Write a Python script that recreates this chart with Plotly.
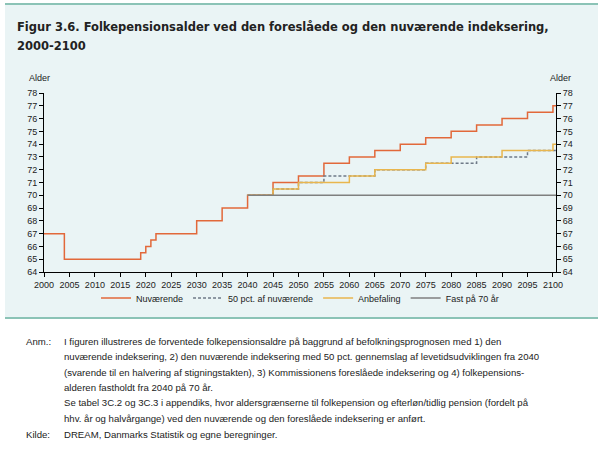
import plotly.graph_objects as go

# ---------------- data ----------------
END_YEAR = 2100.6

NUV_YEARS = [2000, 2004, 2019, 2020, 2021, 2022, 2030, 2035, 2040, 2045, 2050,
             2055, 2060, 2065, 2070, 2075, 2080, 2085, 2090, 2095, 2100]
NUV_VALUES = [67, 65, 65.5, 66, 66.5, 67, 68, 69, 70, 71, 71.5,
              72.5, 73, 73.5, 74, 74.5, 75, 75.5, 76, 76.5, 77]

HALF_YEARS = [2040, 2045, 2050, 2055, 2065, 2075, 2085, 2095]
HALF_VALUES = [70, 70.5, 71, 71.5, 72, 72.5, 73, 73.5]

ANB_YEARS = [2040, 2045, 2050, 2060, 2065, 2075, 2080, 2090, 2100]
ANB_VALUES = [70, 70.5, 71, 71.5, 72, 72.5, 73, 73.5, 74]

FAST_YEARS = [2040]
FAST_VALUES = [70]

SERIES_NAMES = ["Nuværende", "50 pct. af nuværende", "Anbefaling", "Fast på 70 år"]

TITLE_LINES = ["Figur 3.6. Folkepensionsalder ved den foreslåede og den nuværende indeksering,",
               "2000-2100"]
NOTE_LINES = [
    "I figuren illustreres de forventede folkepensionsaldre på baggrund af befolkningsprognosen med 1) den",
    "nuværende indeksering, 2) den nuværende indeksering med 50 pct. gennemslag af levetidsudviklingen fra 2040",
    "(svarende til en halvering af stigningstakten), 3) Kommissionens foreslåede indeksering og 4) folkepensions-",
    "alderen fastholdt fra 2040 på 70 år.",
    "Se tabel 3C.2 og 3C.3 i appendiks, hvor aldersgrænserne til folkepension og efterløn/tidlig pension (fordelt på",
    "hhv. år og halvårgange) ved den nuværende og den foreslåede indeksering er anført.",
]
SOURCE_LINE = "DREAM, Danmarks Statistik og egne beregninger."

# ---------------- layout geometry ----------------
W, H = 604, 449
L, R, T, B = 44, 48, 93, 177
PW, PH = W - L - R, H - T - B


def px(x):
    return (x - L) / PW


def py(y):
    return (H - B - y) / PH


def extend(years, values):
    return list(years) + [END_YEAR], list(values) + [values[-1]]


ORANGE = "#E2683A"
YELLOW = "#E9B64E"
GREY = "#7F7F7F"
DASH = "#6F7A88"
FONT = "Liberation Sans"
TXT = "#222222"

fig = go.Figure()
specs = [
    (NUV_YEARS, NUV_VALUES, ORANGE, "solid"),
    (HALF_YEARS, HALF_VALUES, DASH, "3px,2px"),
    (ANB_YEARS, ANB_VALUES, YELLOW, "solid"),
    (FAST_YEARS, FAST_VALUES, GREY, "solid"),
]
for name, (xs, ys, col, dash) in zip(SERIES_NAMES, specs):
    ex, ey = extend(xs, ys)
    fig.add_trace(go.Scatter(x=ex, y=ey, mode="lines", name=name,
                             line=dict(color=col, width=1.5, dash=dash, shape="hv")))
# invisible trace for right axis
fig.add_trace(go.Scatter(x=[2000], y=[64], yaxis="y2", mode="markers",
                         marker=dict(opacity=0), showlegend=False, hoverinfo="skip"))

BG = "#EAF4F5"
LINE = "#8BC3B6"
shapes = [
    dict(type="rect", xref="paper", yref="paper", x0=px(5), x1=px(598), y0=py(318), y1=py(4),
         fillcolor=BG, line=dict(width=0), layer="below"),
    dict(type="line", xref="paper", yref="paper", x0=px(5), x1=px(598), y0=py(4), y1=py(4),
         line=dict(color=LINE, width=2)),
    dict(type="line", xref="paper", yref="paper", x0=px(5), x1=px(598), y0=py(318), y1=py(318),
         line=dict(color=LINE, width=2)),
]

ann = []
for i, t in enumerate(TITLE_LINES):
    ann.append(dict(text="<b>" + t + "</b>", x=px(15), y=py(27 + 19 * i), xref="paper", yref="paper",
                    xanchor="left", yanchor="middle", showarrow=False,
                    font=dict(family="DejaVu Sans", size=11.5, color=TXT)))
ann.append(dict(text="Alder", x=px(27), y=py(78), xref="paper", yref="paper", xanchor="left",
                yanchor="middle", showarrow=False, font=dict(family=FONT, size=9, color=TXT)))
ann.append(dict(text="Alder", x=px(573), y=py(78), xref="paper", yref="paper", xanchor="right",
                yanchor="middle", showarrow=False, font=dict(family=FONT, size=9, color=TXT)))
NOTE_SIZE = 9.6
ann.append(dict(text="Anm.:", x=px(24), y=py(341), xref="paper", yref="paper", xanchor="left",
                yanchor="middle", showarrow=False, font=dict(family=FONT, size=NOTE_SIZE, color=TXT)))
for i, t in enumerate(NOTE_LINES):
    ann.append(dict(text=t, x=px(62), y=py(341 + 15.5 * i), xref="paper", yref="paper",
                    xanchor="left", yanchor="middle", showarrow=False,
                    font=dict(family=FONT, size=NOTE_SIZE, color=TXT)))
ann.append(dict(text="Kilde:", x=px(24), y=py(341 + 15.5 * 6), xref="paper", yref="paper",
                xanchor="left", yanchor="middle", showarrow=False,
                font=dict(family=FONT, size=NOTE_SIZE, color=TXT)))
ann.append(dict(text=SOURCE_LINE, x=px(62), y=py(341 + 15.5 * 6), xref="paper", yref="paper",
                xanchor="left", yanchor="middle", showarrow=False,
                font=dict(family=FONT, size=NOTE_SIZE, color=TXT)))

axis_common = dict(showline=True, linecolor="#000000", linewidth=1, ticks="outside",
                   ticklen=4, tickcolor="#000000", showgrid=False, zeroline=False,
                   tickfont=dict(family=FONT, size=9, color=TXT))

fig.update_layout(
    width=W, height=H,
    margin=dict(l=L, r=R, t=T, b=B, pad=0),
    paper_bgcolor="white",
    plot_bgcolor="rgba(0,0,0,0)",
    shapes=shapes,
    annotations=ann,
    xaxis=dict(range=[2000, END_YEAR], tick0=2000, dtick=5, **axis_common),
    yaxis=dict(range=[64, 78], dtick=1, **axis_common),
    yaxis2=dict(range=[64, 78], dtick=1, overlaying="y", side="right", **axis_common),
    showlegend=True,
    legend=dict(orientation="h", x=0.5, xanchor="center", y=py(298), yanchor="middle",
                bgcolor="rgba(0,0,0,0)", font=dict(family=FONT, size=9, color=TXT),
                itemwidth=30, tracegroupgap=0),
)

fig.write_html("out.html")
